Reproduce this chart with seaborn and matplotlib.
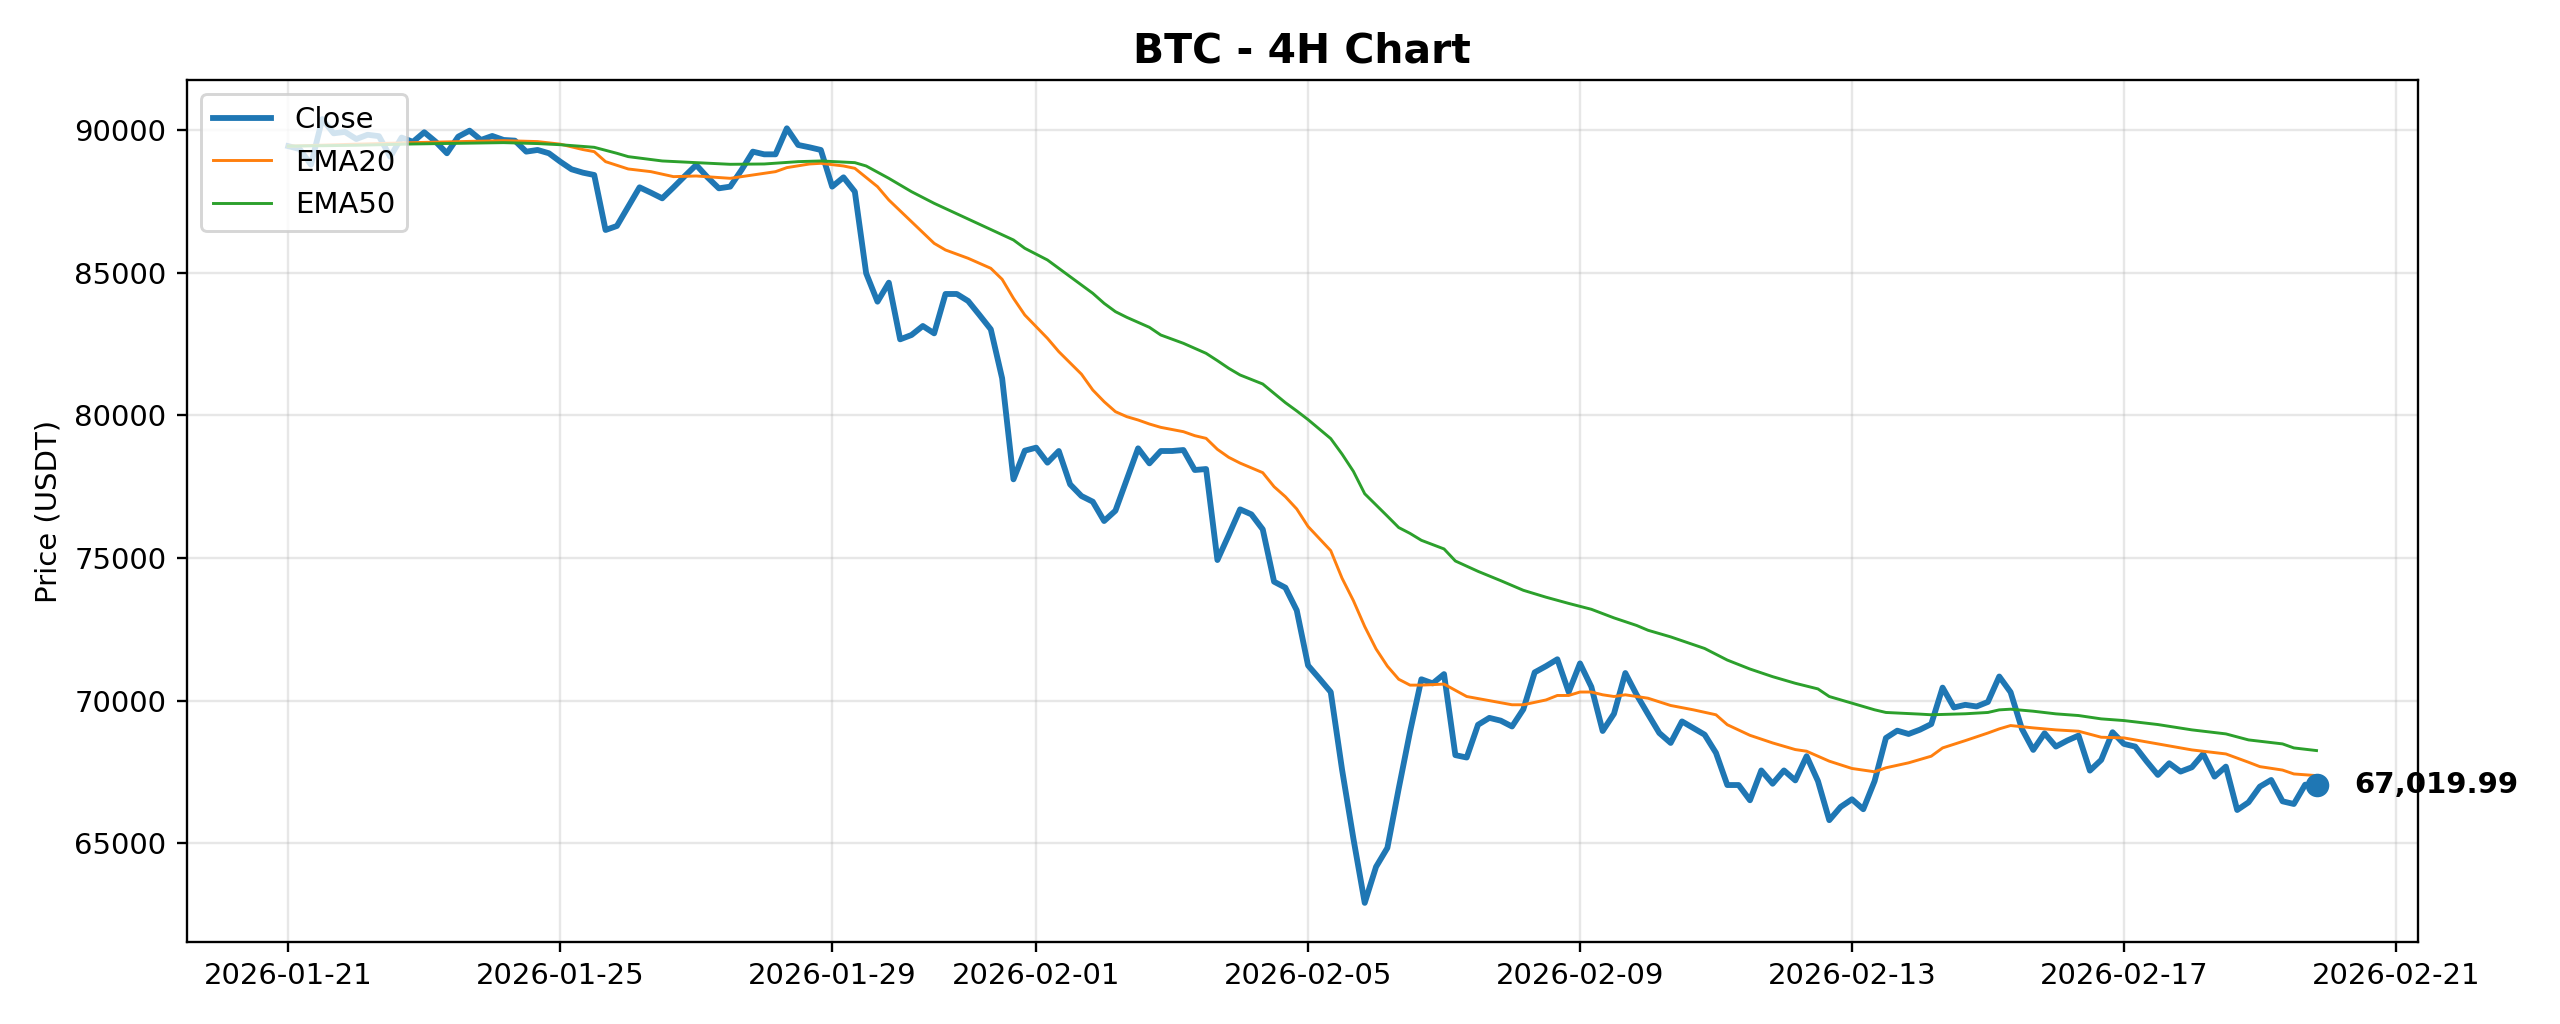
#!/usr/bin/env python3
# BTC 4H close with EMA20 / EMA50 overlay
import numpy as np
import pandas as pd
import matplotlib
matplotlib.use("Agg")
import matplotlib.pyplot as plt
import seaborn as sns

# ---------------- data ----------------
start = "2026-01-21 00:00"

# 4H closes, 180 candles
close = [
    89450, 89350, 88800, 90400, 89900, 89950, 89700, 89850, 89800, 89080,
    89750, 89600, 89937, 89607, 89200, 89783, 89993, 89667, 89807, 89667,
    89643, 89257, 89316, 89200, 88906, 88638, 88520, 88438, 86508, 86649,
    87327, 88005, 87818, 87619, 88005, 88403, 88789, 88356, 87970, 88029,
    88614, 89257, 89163, 89163, 90076, 89491, 89409, 89316, 88029, 88356,
    87853, 84988, 83993, 84660, 82672, 82824, 83140, 82882, 84263, 84263,
    84017, 83526, 83023, 81304, 77760, 78766, 78871, 78344, 78754, 77584,
    77175, 76976, 76298, 76660, 77750, 78848, 78321, 78754, 78754, 78789,
    78087, 78122, 74929, 75806, 76707, 76531, 76005, 74169, 73960, 73165,
    71230, 70770, 70298, 67576, 65157, 62900, 64165, 64830, 66911, 68907,
    70746, 70601, 70927, 68084, 68000, 69149, 69391, 69294, 69089, 69693,
    70988, 71206, 71447, 70298, 71302, 70480, 68931, 69536, 70964, 70200,
    69523, 68860, 68512, 69267, 69035, 68802, 68163, 67035, 67035, 66500,
    67547, 67081, 67547, 67198, 68047, 67174, 65802, 66267, 66535, 66186,
    67174, 68686, 68942, 68826, 68977, 69174, 70453, 69756, 69849, 69791,
    69950, 70843, 70293, 69005, 68267, 68852, 68384, 68595, 68770, 67541,
    67916, 68888, 68478, 68384, 67869, 67389, 67799, 67506, 67658, 68126,
    67330, 67681, 66159, 66428, 66979, 67213, 66464, 66370, 67049, 67019.99,
]

# EMA readings: candle number -> value
ema20_at = [0, 6, 11, 15, 19, 22, 24, 26, 27, 28, 30, 32, 34, 36, 39, 41, 43, 44,
            46, 47, 49, 50, 52, 53, 55, 57, 58, 60, 62, 63, 64, 65, 67, 68, 70,
            71, 72, 73, 74, 75, 76, 77, 79, 80, 81, 82, 83, 84, 86, 87, 88, 89,
            90, 92, 93, 94, 95, 96, 97, 98, 99, 100, 102, 104, 106, 108, 109,
            111, 112, 113, 114, 115, 116, 117, 118, 120, 122, 124, 126, 127,
            129, 131, 133, 134, 136, 138, 140, 141, 143, 145, 146, 148, 150,
            151, 152, 154, 156, 158, 160, 162, 165, 168, 171, 173, 174, 176,
            177, 179]
ema20_val = [89450, 89520, 89573, 89608, 89643, 89610, 89520, 89330, 89257, 88906,
             88649, 88555, 88380, 88403, 88321, 88438, 88555, 88696, 88824, 88848,
             88754, 88672, 88029, 87561, 86800, 86040, 85807, 85515, 85164, 84778,
             84111, 83526, 82707, 82240, 81450, 80894, 80485, 80134, 79959, 79842,
             79701, 79584, 79432, 79292, 79198, 78812, 78532, 78330, 77994, 77502,
             77150, 76720, 76105, 75258, 74290, 73504, 72596, 71810, 71205, 70746,
             70540, 70540, 70576, 70141, 69996, 69851, 69851, 70020, 70177, 70177,
             70298, 70298, 70201, 70141, 70200, 70081, 69826, 69674, 69500, 69151,
             68779, 68512, 68279, 68221, 67872, 67616, 67500, 67640, 67814, 68047,
             68337, 68593, 68860, 69005, 69122, 69040, 68970, 68923, 68712, 68688,
             68478, 68267, 68126, 67834, 67681, 67560, 67424, 67365]

ema50_at = [0, 6, 11, 15, 19, 22, 24, 26, 27, 29, 30, 33, 36, 39, 42, 45, 47, 50,
            51, 53, 55, 57, 64, 65, 67, 69, 71, 72, 73, 74, 76, 77, 79, 81, 82,
            83, 84, 86, 87, 88, 89, 90, 92, 93, 94, 95, 97, 98, 99, 100, 102,
            103, 105, 107, 109, 111, 113, 115, 117, 119, 120, 122, 125, 127,
            129, 131, 133, 135, 136, 138, 140, 141, 144, 145, 148, 150, 151,
            152, 154, 156, 158, 160, 162, 165, 168, 171, 173, 176, 177, 179]
ema50_val = [89450, 89480, 89526, 89549, 89573, 89540, 89500, 89440, 89409, 89199,
             89082, 88930, 88871, 88813, 88824, 88906, 88930, 88871, 88754, 88321,
             87853, 87444, 86158, 85866, 85456, 84871, 84287, 83935, 83643, 83444,
             83093, 82824, 82532, 82181, 81924, 81655, 81421, 81105, 80777, 80450,
             80160, 79855, 79190, 78645, 78040, 77254, 76468, 76069, 75863, 75621,
             75318, 74895, 74532, 74206, 73867, 73625, 73407, 73201, 72899, 72633,
             72465, 72233, 71826, 71419, 71105, 70837, 70605, 70407, 70140, 69907,
             69674, 69581, 69523, 69500, 69535, 69581, 69672, 69696, 69625, 69532,
             69473, 69356, 69297, 69157, 68970, 68829, 68618, 68478, 68337, 68244]


def main():
    dates = pd.date_range(start, periods=len(close), freq="4h")
    df = pd.DataFrame({"time": dates, "close": close})
    e20 = pd.DataFrame({"time": dates[ema20_at], "ema": ema20_val})
    e50 = pd.DataFrame({"time": dates[ema50_at], "ema": ema50_val})

    dpi = 210
    fig, ax = plt.subplots(figsize=(2560 / dpi, 1024 / dpi), dpi=dpi)
    fig.subplots_adjust(left=0.073, right=0.9445, top=0.922, bottom=0.080)

    sns.lineplot(data=df, x="time", y="close", ax=ax, color="tab:blue",
                 linewidth=2, label="Close")
    sns.lineplot(data=e20, x="time", y="ema", ax=ax, color="tab:orange",
                 linewidth=1, label="EMA20")
    sns.lineplot(data=e50, x="time", y="ema", ax=ax, color="tab:green",
                 linewidth=1, label="EMA50")

    # last price marker + label
    last_t, last_p = df["time"].iloc[-1], df["close"].iloc[-1]
    ax.scatter([last_t], [last_p], color="tab:blue", s=50, zorder=5)
    ax.annotate(f"{last_p:,.2f}", xy=(last_t, last_p), xytext=(13, 0),
                textcoords="offset points", va="center", ha="left",
                fontsize=10, fontweight="bold")

    ax.set_title("BTC - 4H Chart", fontsize=14, fontweight="bold")
    ax.set_xlabel("")
    ax.set_ylabel("Price (USDT)")
    ax.grid(True, alpha=0.3)
    ax.legend(loc="upper left")

    fig.savefig("out.png", dpi=dpi)
    plt.close(fig)


if __name__ == "__main__":
    main()
